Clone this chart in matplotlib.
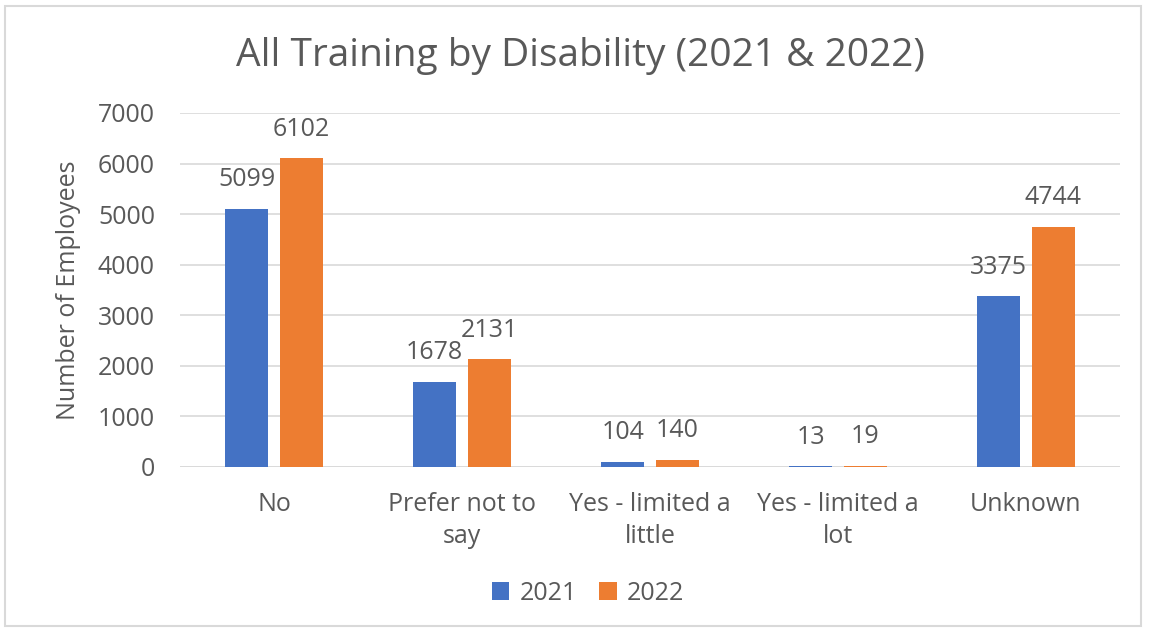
import matplotlib
matplotlib.use("Agg")
import matplotlib.pyplot as plt
from matplotlib.patches import Rectangle
import numpy as np

categories = ["No", "Prefer not to\nsay", "Yes - limited a\nlittle", "Yes - limited a\nlot", "Unknown"]
values_2021 = [5099, 1678, 104, 13, 3375]
values_2022 = [6102, 2131, 140, 19, 4744]
series_names = ["2021", "2022"]
yticks = [0, 1000, 2000, 3000, 4000, 5000, 6000, 7000]

plt.rcParams['font.family'] = ['Open Sans', 'DejaVu Sans']
TXT = '#595959'
C1 = '#4472C4'
C2 = '#ED7D31'
FS = 18

fig = plt.figure(figsize=(11.5, 6.31), dpi=100)
fig.patches.append(Rectangle((5/1150, 1 - 626/631), 1136/1150, 620/631, transform=fig.transFigure,
                             fill=False, edgecolor='#D9D9D9', linewidth=1.5))

ax = fig.add_axes([180/1150, 1 - 467/631, 940/1150, (467-113)/631])
x = np.arange(len(categories))
w = 0.23
off = 0.145
b1 = ax.bar(x - off, values_2021, w, color=C1, label=series_names[0], zorder=3)
b2 = ax.bar(x + off, values_2022, w, color=C2, label=series_names[1], zorder=3)

for bars in (b1, b2):
    for rect in bars:
        h = rect.get_height()
        ax.annotate(f"{int(h)}", (rect.get_x() + rect.get_width()/2, h), xytext=(0, 12),
                    textcoords='offset points', ha='center', va='bottom', fontsize=FS, color=TXT)

ax.set_xlim(-0.5, 4.5)
ax.set_ylim(0, 7000)
ax.set_yticks(yticks)
ax.set_yticklabels([str(t) for t in yticks])
ax.set_xticks(x)
ax.set_xticklabels(categories, linespacing=1.35)
ax.tick_params(axis='both', length=0, colors=TXT, labelsize=FS)
ax.tick_params(axis='y', pad=18)
ax.tick_params(axis='x', pad=18)
ax.grid(axis='y', color='#D9D9D9', linewidth=1.2, zorder=0)
for s in ax.spines.values():
    s.set_visible(False)
ax.axhline(0, color='#D9D9D9', linewidth=1.2, zorder=1)

ax.set_ylabel("Number of Employees", fontsize=FS, color=TXT, labelpad=12)
fig.text(580/1150, 1 - 56/631, "All Training by Disability (2021 & 2022)", ha='center', va='center',
         fontsize=28, color=TXT)

leg = fig.legend(handles=[b1, b2], labels=series_names, loc='center', bbox_to_anchor=(588/1150, 1 - 593/631),
                 ncol=2, frameon=False, fontsize=FS, handlelength=0.7, handleheight=0.7,
                 handletextpad=0.4, columnspacing=0.9)
for t in leg.get_texts():
    t.set_color(TXT)

fig.savefig("out.png", dpi=100, facecolor='white')
